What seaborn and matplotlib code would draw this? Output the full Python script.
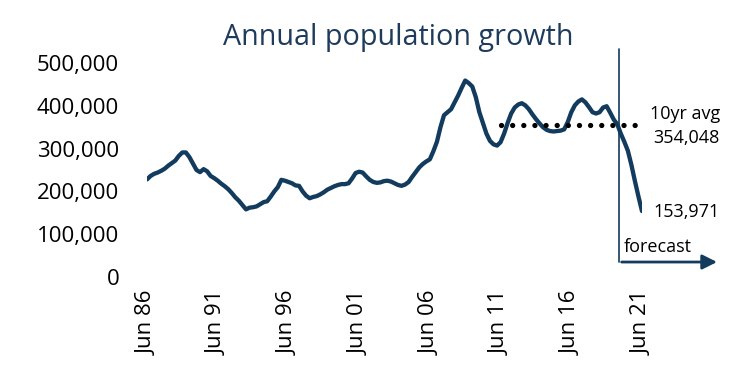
import numpy as np
import pandas as pd
import matplotlib.pyplot as plt
import seaborn as sns

# quarterly annual population growth, Jun 1986 .. Jun 2021 (last quarters are forecast)
growth_k = [
    228, 236, 241, 244, 248, 253, 260, 266, 272, 283,
    291, 291, 280, 265, 250, 245, 252, 247, 236, 231,
    225, 218, 212, 205, 196, 186, 178, 168, 158, 162,
    163, 165, 170, 175, 177, 188, 200, 210, 227, 225,
    222, 219, 214, 213, 200, 190, 184, 187, 189, 193,
    198, 204, 208, 212, 215, 217, 217, 219, 230, 243,
    246, 244, 235, 227, 222, 220, 221, 224, 225, 223,
    219, 215, 213, 216, 222, 234, 245, 256, 264, 270,
    275, 294, 316, 350, 378, 385, 392, 408, 424, 442,
    459, 453, 445, 420, 385, 360, 335, 318, 310, 307,
    315, 335, 360, 382, 396, 403, 406, 401, 392, 380,
    369, 359, 350, 344, 341, 340, 341, 342, 345, 362,
    385, 401, 410, 415, 408, 397, 385, 382, 385, 396,
    399, 384, 368, 357, 335, 316, 295, 262, 224, 188,
    153.971,
]
tick_labels = ['Jun 86', 'Jun 91', 'Jun 96', 'Jun 01', 'Jun 06', 'Jun 11', 'Jun 16', 'Jun 21']
avg_10yr = 354048
last_value = 153971

df = pd.DataFrame({'q': np.arange(len(growth_k)), 'growth': np.array(growth_k) * 1000})

navy = '#123b5e'

sns.set_theme(style='white')
plt.rcParams['font.family'] = ['Open Sans', 'DejaVu Sans']

fig = plt.figure(figsize=(7.42, 3.83), dpi=100)
ax = fig.add_axes([147 / 742, 106 / 383, 495 / 742, 214 / 383])

sns.lineplot(data=df, x='q', y='growth', color=navy, linewidth=3.1, ax=ax)

# 10 year average, dotted
ax.plot([100, 138], [avg_10yr, avg_10yr], color='black', linewidth=3.8,
        linestyle=(0, (0.01, 2.1)), dash_capstyle='round', zorder=3)

# forecast marker: vertical line + arrow
fc = 133.6
ax.plot([fc, fc], [35000, 533000], color=navy, linewidth=1.2, clip_on=False)
ax.annotate('', xy=(162, 35000), xytext=(fc - 0.15, 35000),
            arrowprops=dict(arrowstyle='-|>', color=navy, lw=2, mutation_scale=22),
            annotation_clip=False)

ax.set_xlim(0, 140)
ax.set_ylim(0, 500000)
ax.set_xticks(np.arange(0, 141, 20))
ax.set_xticklabels(tick_labels, rotation=90, fontsize=16)
ax.set_yticks(np.arange(0, 500001, 100000))
ax.set_yticklabels([f'{v:,}' for v in range(0, 500001, 100000)], fontsize=16)
ax.tick_params(axis='y', pad=20, length=0, colors='black')
ax.tick_params(axis='x', pad=10, length=0, colors='black')
ax.set_xlabel('')
ax.set_ylabel('')
sns.despine(ax=ax, left=True, bottom=True)

fig.text(398 / 742, 1 - 38 / 383, 'Annual population growth', ha='center', va='center',
         fontsize=20.7, color='#1f3b5c')
fig.text(720 / 742, 1 - 114 / 383, '10yr avg', ha='right', va='center', fontsize=13, color='black')
fig.text(720 / 742, 1 - 138 / 383, f'{avg_10yr:,}', ha='right', va='center', fontsize=13, color='black')
fig.text(720 / 742, 1 - 212 / 383, f'{last_value:,}', ha='right', va='center', fontsize=13, color='black')
fig.text(624 / 742, 1 - 247 / 383, 'forecast', ha='left', va='center', fontsize=13, color='black')

fig.savefig('out.png', dpi=100)
